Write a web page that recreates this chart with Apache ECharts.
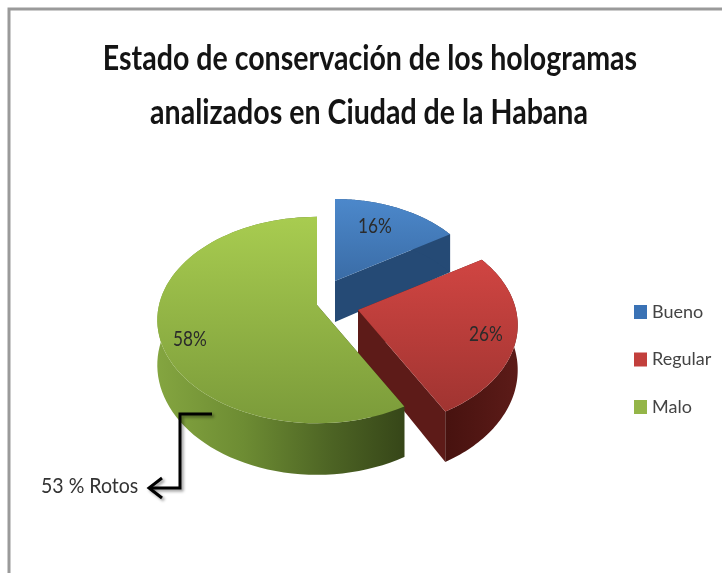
<!DOCTYPE html>
<html>
<head>
<meta charset="utf-8">
<style>
  html, body { margin: 0; padding: 0; background: #fff; }
  #chart { width: 722px; height: 573px; filter: blur(0.7px); }
</style>
</head>
<body>
<div id="chart"></div>
<script src="https://cdn.jsdelivr.net/npm/echarts@6/dist/echarts.min.js"></script>
<script>
  // datos
  var categories = ['Bueno', 'Regular', 'Malo'];
  var percentValues = [16, 26, 58];
  var legendColors = ['#3a72b5', '#c23f3c', '#94b548'];
  var titleLines = ['Estado de conservación de los hologramas', 'analizados en Ciudad de la Habana'];
  var noteText = '53 % Rotos';

  // geometria del pastel 3D (perspectiva de un disco)
  var FONT = 'Lato, "Open Sans", sans-serif';
  var RX = 158, RY = 101, PERSP = 0.146, DEPTH = 44;
  var apexes = [[335, 281, 0.93], [358, 310, 1], [317, 305, 1]];
  var labelPos = [[375, 226], [486, 334], [190, 339]];

  var topFill = [
    ['#4c88cb', '#3a6ca6'],
    ['#d04542', '#a03431'],
    ['#a8cc50', '#7b9b3a']
  ];
  var cutFill = ['#254a75', '#5d1b18', '#3a4a18'];

  function project(theta, r, apex, low) {
    var u = Math.sin(theta) * r, v = Math.cos(theta) * r;
    var w = 1 + PERSP * v, s = apex[2];
    return [
      apex[0] + RX * u / w * s,
      apex[1] - RY * v / w * s + (low ? DEPTH / w * s : 0)
    ];
  }

  function sliceAngles(index) {
    var total = percentValues.reduce(function (a, b) { return a + b; }, 0);
    var before = 0;
    for (var i = 0; i < index; i++) before += percentValues[i];
    return [before / total * Math.PI * 2, (before + percentValues[index]) / total * Math.PI * 2];
  }

  function wallFill(index) {
    if (index === 2) {
      return new echarts.graphic.LinearGradient(0, 0, 1, 0, [
        { offset: 0, color: '#84a540' },
        { offset: 0.35, color: '#6d8c33' },
        { offset: 0.7, color: '#4d6424' },
        { offset: 1, color: '#364618' }
      ]);
    }
    if (index === 1) {
      return new echarts.graphic.LinearGradient(0, 0, 1, 0, [
        { offset: 0, color: '#47120f' },
        { offset: 1, color: '#5c1b18' }
      ]);
    }
    return '#254a75';
  }

  function renderSlice(params, api) {
    var idx = params.seriesIndex;
    var apex = apexes[idx];
    var ang = sliceAngles(idx);
    var topArc = [], lowArc = [];
    var steps = 80;
    for (var i = 0; i <= steps; i++) {
      var t = ang[0] + (ang[1] - ang[0]) * i / steps;
      topArc.push(project(t, 1, apex, false));
      lowArc.push(project(t, 1, apex, true));
    }
    var apexTop = project(0, 0, apex, false);
    var apexLow = project(0, 0, apex, true);
    var children = [
      {
        type: 'polygon',
        shape: { points: [apexTop, topArc[0], lowArc[0], apexLow] },
        style: { fill: cutFill[idx] }
      },
      {
        type: 'polygon',
        shape: { points: [apexTop, topArc[steps], lowArc[steps], apexLow] },
        style: { fill: cutFill[idx] }
      },
      {
        type: 'polygon',
        shape: { points: topArc.concat(lowArc.slice().reverse()) },
        style: { fill: wallFill(idx) }
      },
      {
        type: 'polygon',
        shape: { points: [apexTop].concat(topArc) },
        style: {
          fill: new echarts.graphic.LinearGradient(0, 0, 0, 1, [
            { offset: 0, color: topFill[idx][0] },
            { offset: 1, color: topFill[idx][1] }
          ])
        }
      },
      {
        type: 'text',
        x: labelPos[idx][0],
        y: labelPos[idx][1],
        scaleX: 0.82,
        style: {
          text: api.value(0) + '%',
          align: 'center',
          verticalAlign: 'middle',
          fill: '#2b2b2b',
          font: '21px ' + FONT
        }
      }
    ];
    return { type: 'group', children: children };
  }

  var myChart = echarts.init(document.getElementById('chart'));

  var series = categories.map(function (name, i) {
    return {
      name: name,
      type: 'custom',
      coordinateSystem: 'none',
      renderItem: renderSlice,
      itemStyle: { color: legendColors[i] },
      silent: true,
      z: i + 2,
      data: [[percentValues[i]]]
    };
  });

  var option = {
    backgroundColor: '#fff',
    animation: false,
    legend: {
      orient: 'vertical',
      left: 634,
      top: 303,
      padding: 0,
      icon: 'rect',
      itemWidth: 13,
      itemHeight: 14,
      itemGap: 29.5,
      data: categories,
      textStyle: { fontFamily: FONT, fontSize: 18, color: '#444' }
    },
    graphic: [
      // marco gris
      {
        type: 'polyline',
        silent: true,
        shape: { points: [[9, 573], [9, 9], [722, 9]] },
        style: { stroke: '#9a9a9a', lineWidth: 3, fill: null }
      },
      // titulo en dos lineas, estrecho como el original
      {
        type: 'text',
        silent: true,
        x: 370,
        y: 59,
        scaleX: 0.84,
        style: {
          text: titleLines[0],
          align: 'center',
          verticalAlign: 'middle',
          fill: '#141414',
          font: 'bold 34px ' + FONT
        }
      },
      {
        type: 'text',
        silent: true,
        x: 369,
        y: 113,
        scaleX: 0.84,
        style: {
          text: titleLines[1],
          align: 'center',
          verticalAlign: 'middle',
          fill: '#141414',
          font: 'bold 34px ' + FONT
        }
      },
      // flecha de la nota
      {
        type: 'polyline',
        silent: true,
        z: 20,
        shape: { points: [[212, 414], [180, 414], [180, 488], [150, 488]] },
        style: {
          stroke: '#000', lineWidth: 3, fill: null,
          shadowBlur: 3, shadowOffsetX: 2, shadowOffsetY: 2, shadowColor: 'rgba(0,0,0,0.4)'
        }
      },
      {
        type: 'polyline',
        silent: true,
        z: 20,
        shape: { points: [[162, 478], [149, 488], [162, 498]] },
        style: {
          stroke: '#000', lineWidth: 3, fill: null,
          shadowBlur: 3, shadowOffsetX: 2, shadowOffsetY: 2, shadowColor: 'rgba(0,0,0,0.4)'
        }
      },
      {
        type: 'text',
        silent: true,
        z: 20,
        x: 41,
        y: 486,
        scaleX: 0.93,
        style: {
          text: noteText,
          verticalAlign: 'middle',
          fill: '#333',
          font: '21px ' + FONT
        }
      }
    ],
    series: series
  };

  option && myChart.setOption(option);
</script>
</body>
</html>
